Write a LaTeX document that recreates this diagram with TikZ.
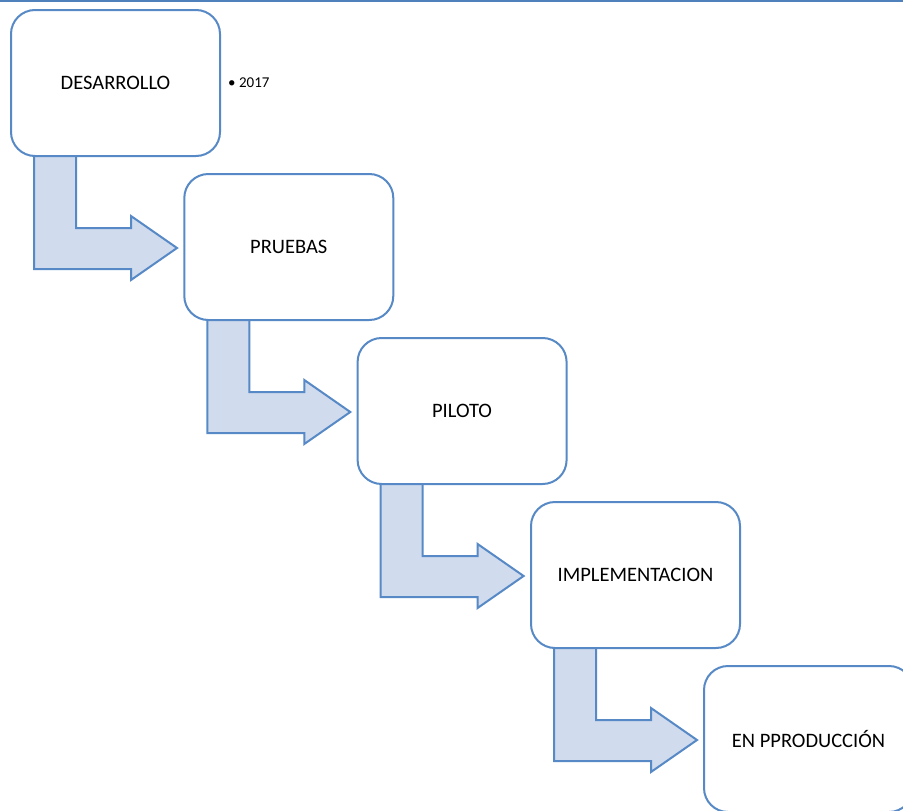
\documentclass[tikz,border=0pt]{standalone}
\usepackage{fontspec}
\setmainfont{Carlito}
\definecolor{edgeblue}{RGB}{86,137,197}
\definecolor{arrowfill}{RGB}{208,219,238}
\definecolor{topblue}{RGB}{79,129,189}
\begin{document}
\begin{tikzpicture}[x=1pt,y=-1pt,
  stagebox/.style={draw=edgeblue,line width=2pt,fill=white,rounded corners=24pt,
    minimum width=209pt,minimum height=146pt,anchor=north west,inner sep=0pt,
    font=\fontsize{20.5}{24}\selectfont},
  bentarrow/.style={draw=edgeblue,line width=2pt,fill=arrowfill,line join=miter}]
\useasboundingbox (0,0) rectangle (903,811);
\clip (0,0) rectangle (903,811);
\fill[topblue] (0,0) rectangle (903,2.2);
% boxes (positions)
\path
  (10,9) coordinate (p1)
  (183.3,173) coordinate (p2)
  (356.6,337) coordinate (p3)
  (530,501) coordinate (p4)
  (703,665) coordinate (p5);
% invisible frames to get anchors for arrows
\foreach \i in {1,...,4}{
  \begin{scope}[shift={(p\i)}]
    \draw[bentarrow] (24,146) -- (66,146) -- (66,219) -- (121,219) -- (121,207)
      -- (167,239) -- (121,271) -- (121,260) -- (24,260) -- cycle;
  \end{scope}
}
\node[stagebox] (b1) at (p1) {DESARROLLO};
\node[stagebox] (b2) at (p2) {PRUEBAS};
\node[stagebox] (b3) at (p3) {PILOTO};
\node[stagebox] (b4) at (p4) {IMPLEMENTACION};
\node[stagebox] (b5) at (p5) {EN PPRODUCCIÓN};
\node[anchor=west,inner sep=0pt,font=\fontsize{15}{18}\selectfont] (yr) at ([xshift=7pt]b1.east) {• 2017};
\end{tikzpicture}
\end{document}
